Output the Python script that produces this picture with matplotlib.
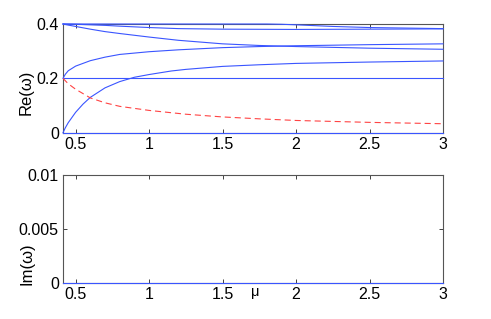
import matplotlib
matplotlib.use("Agg")
import matplotlib.pyplot as plt
import numpy as np

plt.rcParams['font.family'] = ['Liberation Sans', 'DejaVu Sans']

# ---- data ----
mu_flat = [0.4142, 3.0]
flat_0 = [0.0, 0.0]
flat_02 = [0.2, 0.2]

mu_top = [0.4142, 1.0, 1.5, 1.8, 1.9, 2.0, 2.25, 2.5, 2.75, 3.0]
re_top = [0.4, 0.4, 0.4, 0.4, 0.399, 0.397, 0.391, 0.387, 0.385, 0.383]

mu_c3 = [0.4142, 0.5, 0.6, 0.7, 0.8, 1.0, 1.2, 1.5, 2.0, 2.5, 3.0]
re_c3 = [0.4, 0.399, 0.397, 0.395, 0.392, 0.387, 0.383, 0.381, 0.380, 0.381, 0.382]

mu_c4 = [0.4142, 0.45, 0.5, 0.6, 0.7, 0.8, 1.0, 1.2, 1.5, 1.75, 2.0, 2.5, 3.0]
re_c4 = [0.4, 0.396, 0.391, 0.381, 0.372, 0.365, 0.352, 0.340, 0.327, 0.321, 0.317, 0.311, 0.307]

mu_c5 = [0.4142, 0.43, 0.45, 0.5, 0.6, 0.7, 0.8, 1.0, 1.2, 1.5, 1.75, 2.0, 2.5, 3.0]
re_c5 = [0.2, 0.215, 0.228, 0.245, 0.265, 0.278, 0.288, 0.298, 0.305, 0.313, 0.317, 0.320, 0.324, 0.327]

mu_c6 = [0.4142, 0.43, 0.45, 0.5, 0.55, 0.6, 0.7, 0.8, 0.9, 1.0, 1.15, 1.25, 1.5, 1.75, 2.0, 2.5, 3.0]
re_c6 = [0.0, 0.018, 0.037, 0.075, 0.105, 0.13, 0.165, 0.188, 0.204, 0.214, 0.227, 0.233, 0.244, 0.250, 0.255, 0.260, 0.264]

mu_red = [0.4142, 0.45, 0.5, 0.6, 0.7, 0.8, 1.0, 1.25, 1.5, 1.75, 2.0, 2.5, 3.0]
re_red = [0.2, 0.18, 0.16, 0.128, 0.11, 0.097, 0.082, 0.068, 0.058, 0.051, 0.045, 0.038, 0.033]

mu_im = [0.4142, 3.0]
im_vals = [0.0, 0.0]

xticks = [0.5, 1, 1.5, 2, 2.5, 3]
xticklabels = ['0.5', '1', '1.5', '2', '2.5', '3']
yticks_re = [0, 0.2, 0.4]
yticklabels_re = ['0', '0.2', '0.4']
yticks_im = [0, 0.005, 0.01]
yticklabels_im = ['0', '0.005', '0.01']

# ---- figure ----
fig = plt.figure(figsize=(4.91, 3.19), dpi=100)
ax1 = fig.add_axes([63/491, 1-132.7/319, 380/491, 108.7/319])
ax2 = fig.add_axes([63/491, 1-283.3/319, 380/491, 108.6/319])

blue = '#3a55ff'
red = '#ff4444'
lw = 0.8

for mu, v in [(mu_flat, flat_0), (mu_flat, flat_02), (mu_top, re_top),
              (mu_c3, re_c3), (mu_c4, re_c4), (mu_c5, re_c5), (mu_c6, re_c6)]:
    ax1.plot(mu, v, color=blue, lw=lw, clip_on=False, zorder=3)
ax1.plot(mu_red, re_red, color=red, lw=lw, dashes=(5.5, 3.5), zorder=3)

ax2.plot(mu_im, im_vals, color=blue, lw=lw, clip_on=False, zorder=3)

spine_col = '#555555'
for ax, yt, ytl, yl in [(ax1, yticks_re, yticklabels_re, (0, 0.4)),
                        (ax2, yticks_im, yticklabels_im, (0, 0.01))]:
    ax.set_xlim(0.4142, 3)
    ax.set_ylim(*yl)
    ax.set_xticks(xticks)
    ax.set_xticklabels(xticklabels)
    ax.set_yticks(yt)
    ax.set_yticklabels(ytl)
    ax.tick_params(direction='in', length=3, width=0.6, top=True, right=True,
                   labelsize=11.5, pad=3, colors='#222222', labelcolor='black')
    for s in ax.spines.values():
        s.set_color(spine_col)
        s.set_linewidth(0.8)

ax1.set_ylabel('Re(ω)', fontsize=12, va='center')
ax2.set_ylabel('Im(ω)', fontsize=12, va='center')
ax1.yaxis.set_label_coords((26-63)/380, (132.7-92)/108.7)
ax2.yaxis.set_label_coords((26.5-63)/380, (283.3-264)/108.6)

ax2.set_xlabel('μ', fontsize=10.5)
ax2.xaxis.set_label_coords((255-63)/380, -(292-283.3)/108.6)
ax2.xaxis.label.set_va('center')

fig.savefig('out.png', dpi=100)
